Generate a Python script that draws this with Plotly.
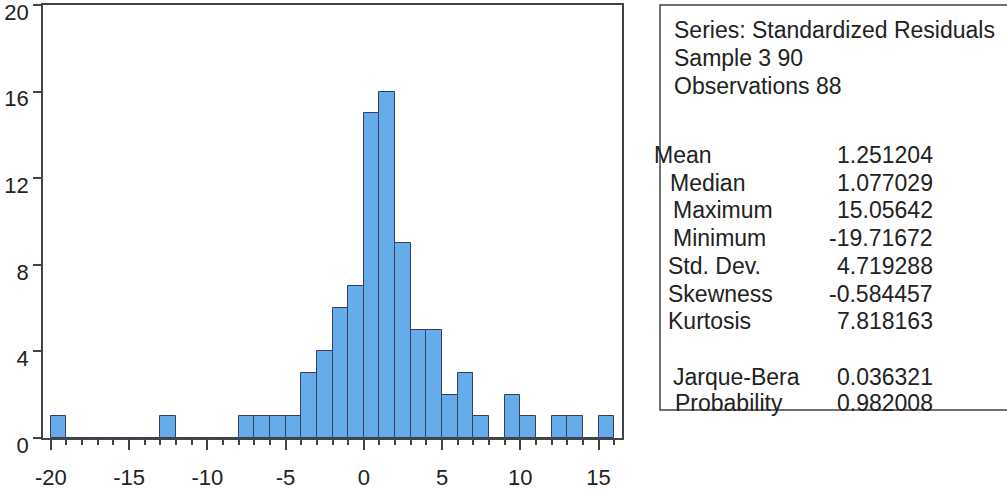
import plotly.graph_objects as go

# ---- data ----
bin_starts = list(range(-20, 16))  # bins [k, k+1)
counts = [1, 0, 0, 0, 0, 0, 0, 1, 0, 0, 0, 0, 1, 1, 1, 1, 3, 4, 6, 7,
          15, 16, 9, 5, 5, 2, 3, 1, 0, 2, 1, 0, 1, 1, 0, 1]
bin_width = 1

x_tick_vals = [-20, -15, -10, -5, 0, 5, 10, 15]
x_tick_text = ["-20", "-15", "-10", "-5", "0", "5", "10", "15"]
y_tick_vals = [0, 4, 8, 12, 16, 20]

stat_header = ["Series: Standardized Residuals", "Sample 3 90", "Observations 88"]
stat_names = ["Mean", "Median", "Maximum", "Minimum", "Std. Dev.", "Skewness", "Kurtosis",
              "Jarque-Bera", "Probability"]
stat_values = ["1.251204", "1.077029", "15.05642", "-19.71672", "4.719288", "-0.584457",
               "7.818163", "0.036321", "0.982008"]

# ---- layout geometry (pixels) ----
W, H = 1007, 490
L, R, T, B = 43, 385, 5, 52
PW = W - L - R
PH = H - T - B


def px(x):
    return (x - L) / PW


def py(y):
    return (H - B - y) / PH


FONT = "Liberation Sans, Arial, sans-serif"
TXT = "#222"

fig = go.Figure()
fig.add_trace(go.Bar(
    x=[s + bin_width / 2 for s in bin_starts],
    y=counts,
    width=bin_width,
    marker=dict(color="#66ACEA", line=dict(color="#3B3D5E", width=1)),
    showlegend=False,
))

fig.update_layout(
    width=W, height=H,
    margin=dict(l=L, r=R, t=T, b=B, pad=0, autoexpand=False),
    plot_bgcolor="white", paper_bgcolor="white",
    bargap=0,
    font=dict(family=FONT, size=22, color=TXT),
    xaxis=dict(
        range=[-20.5, 16.5], tickmode="array", tickvals=x_tick_vals, ticktext=x_tick_text,
        ticks="outside", ticklen=10, tickcolor="#444", tickwidth=1.5,
        showline=True, linecolor="#444", linewidth=1.5, mirror=True,
        showgrid=False, zeroline=False, automargin=False,
        minor=dict(dtick=1, tick0=-20, ticks="outside", ticklen=5, tickcolor="#444",
                   tickwidth=1.5, showgrid=False),
        ticklabelstandoff=9,
    ),
    yaxis=dict(
        range=[0, 20], tickmode="array", tickvals=y_tick_vals,
        ticks="outside", ticklen=8, tickcolor="#444", tickwidth=1.5,
        showline=True, linecolor="#444", linewidth=1.5, mirror=True,
        showgrid=False, zeroline=False, automargin=False,
        ticklabelshift=7, ticklabeloverflow="allow",
    ),
)

# stats box
fig.add_shape(type="rect", xref="paper", yref="paper",
              x0=px(660), x1=px(1012), y0=py(410), y1=py(5),
              line=dict(color="#444", width=1.5), fillcolor="rgba(0,0,0,0)")

header_y = [30, 58, 86]
for txt, y in zip(stat_header, header_y):
    fig.add_annotation(text=txt, xref="paper", yref="paper", x=px(672), y=py(y),
                       xanchor="left", yanchor="middle", showarrow=False,
                       font=dict(family=FONT, size=23, color=TXT))

name_x = [652, 668, 671, 671, 666, 666, 666, 671, 673]
row_y = [155, 183, 210, 238, 266, 294, 321, 377, 403]
for name, val, nx, y in zip(stat_names, stat_values, name_x, row_y):
    fig.add_annotation(text=name, xref="paper", yref="paper", x=px(nx), y=py(y),
                       xanchor="left", yanchor="middle", showarrow=False,
                       font=dict(family=FONT, size=23, color=TXT))
    fig.add_annotation(text=val, xref="paper", yref="paper", x=px(935), y=py(y),
                       xanchor="right", yanchor="middle", showarrow=False,
                       font=dict(family=FONT, size=23, color=TXT))

fig.write_html("out.html")
